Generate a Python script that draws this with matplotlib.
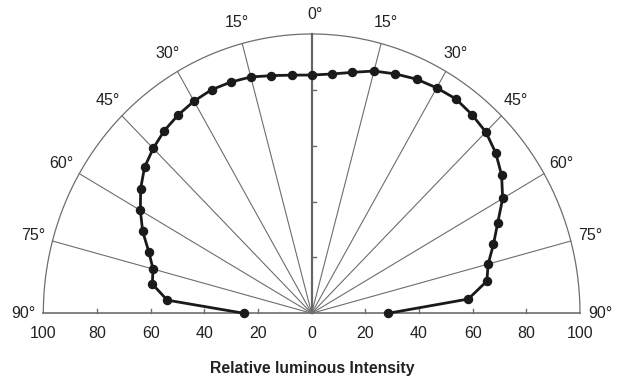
import numpy as np
import matplotlib
matplotlib.use("Agg")
import matplotlib.pyplot as plt

plt.rcParams["font.family"] = ["Liberation Sans", "DejaVu Sans"]

# angle from vertical (degrees), measured at 5 deg steps
angles = [0, 5, 10, 15, 20, 25, 30, 35, 40, 45, 50, 55, 60, 65, 70, 75, 80, 85, 90]
# relative intensity, left half (negative side)
left_vals = [85.3, 85.6, 86.4, 87.6, 88.1, 88.3, 87.7, 86.7, 85.4, 83.5,
             81.3, 77.8, 73.7, 69.5, 64.6, 61.2, 60.3, 54.0, 25.2]
# relative intensity, right half
right_vals = [85.3, 86.0, 87.6, 89.8, 91.2, 92.5, 93.2, 93.7, 92.9, 91.8,
              89.5, 86.4, 82.2, 76.5, 72.1, 68.1, 66.3, 58.6, 28.5]

grid_angles = [15, 30, 45, 60, 75]
label_angles = [0, 15, 30, 45, 60, 75, 90]
tick_vals = [-100, -80, -60, -40, -20, 0, 20, 40, 60, 80, 100]

fig = plt.figure(figsize=(6.17, 3.81), dpi=100)
ax = fig.add_axes([0.0702, 0.1777, 0.8698, 0.7331])
ax.set_xlim(-100, 100)
ax.set_ylim(0, 100)
ax.axis("off")

grey = "#6e6e6e"

# outer arc
t = np.radians(np.linspace(-90, 90, 361))
ax.plot(100 * np.sin(t), 100 * np.cos(t), color=grey, lw=0.9, clip_on=False)

# radial grid lines
for a in grid_angles:
    for s in (-1, 1):
        r = np.radians(s * a)
        ax.plot([0, 100 * np.sin(r)], [0, 100 * np.cos(r)], color=grey, lw=0.8, clip_on=False)

# 0 deg axis and baseline
ax.plot([0, 0], [0, 100], color="#666666", lw=1.6, clip_on=False)
ax.plot([-100, 100], [0, 0], color=grey, lw=1.2, clip_on=False)

# ticks on vertical axis
for v in [20, 40, 60, 80]:
    ax.plot([0, 1.5], [v, v], color="#666666", lw=1.0, clip_on=False)

# ticks on baseline
for v in tick_vals[1:-1]:
    ax.plot([v, v], [0, 1.4], color=grey, lw=1.0, clip_on=False)

for v in tick_vals:
    ax.text(v, -7.4, str(abs(v)), ha="center", va="center", fontsize=11.5, color="#222222")

# angle labels
for a in label_angles:
    for s in ((-1, 1) if a else (1,)):
        r = np.radians(s * a)
        rr = 106.8 if a == 0 else 107.6
        ax.text(rr * np.sin(r) + (1.2 if a == 0 else 0), rr * np.cos(r), f"{a}°",
                ha="center", va="center", fontsize=11.5, color="#222222")

# intensity curve
la = np.radians(-np.array(angles))
ra = np.radians(np.array(angles))
lv = np.array(left_vals)
rv = np.array(right_vals)
xs = np.concatenate([(lv * np.sin(la))[::-1], (rv * np.sin(ra))[1:]])
ys = np.concatenate([(lv * np.cos(la))[::-1], (rv * np.cos(ra))[1:]])
ax.plot(xs, ys, color="#1a1a1a", lw=2.0, marker="o", markersize=5.8, clip_on=False, zorder=5)

fig.text(0.5055, (381 - 368) / 381, "Relative luminous Intensity", ha="center", va="center",
         fontsize=11.3, fontweight="bold", color="#222222")

plt.savefig("out.png", dpi=100)
